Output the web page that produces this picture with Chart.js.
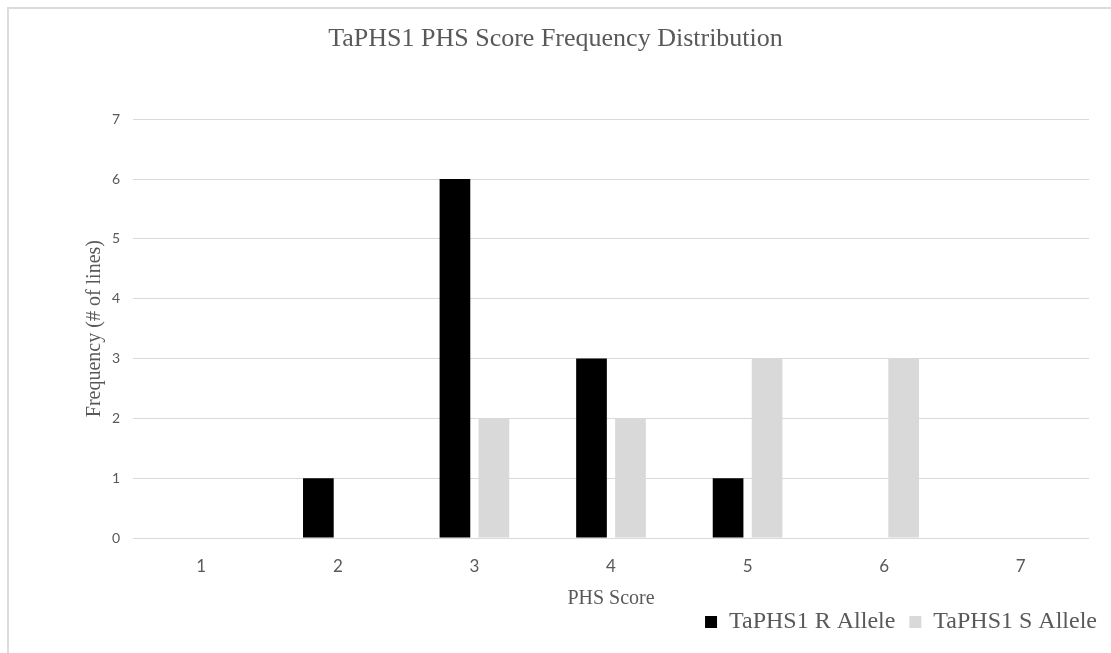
<!DOCTYPE html>
<html>
<head>
<meta charset="utf-8">
<title>TaPHS1 PHS Score Frequency Distribution</title>
<script src="https://cdn.jsdelivr.net/npm/chart.js@4"></script>
<style>
  html, body { margin: 0; padding: 0; background: #fff; overflow: hidden; }
  .frame {
    position: absolute; left: 7px; top: 7px; width: 1200px; height: 700px;
    border-left: 2px solid #dcdcdc; border-top: 2px solid #dcdcdc;
  }
  #wrap { position: absolute; left: 0; top: 0; width: 1111px; height: 653px; }
</style>
</head>
<body>
<div class="frame"></div>
<div id="wrap"><canvas id="phsChart" width="1111" height="653"></canvas></div>
<script>
// ------------------- Data -------------------
const scoreLabels = ["1", "2", "3", "4", "5", "6", "7"];
const rAlleleCounts = [0, 1, 6, 3, 1, 0, 0];
const sAlleleCounts = [0, 0, 2, 2, 3, 3, 0];
const seriesNames = ["TaPHS1 R Allele", "TaPHS1 S Allele"];

const grey = "#595959";
const serif = "'Liberation Serif', 'Times New Roman', serif";
const sans = "Lato, 'Open Sans', sans-serif";

new Chart(document.getElementById("phsChart"), {
  type: "bar",
  data: {
    labels: scoreLabels,
    datasets: [
      { label: seriesNames[0], data: rAlleleCounts, backgroundColor: "#000000", borderWidth: 0 },
      { label: seriesNames[1], data: sAlleleCounts, backgroundColor: "#d9d9d9", borderWidth: 0 },
    ],
  },
  options: {
    responsive: false,
    animation: false,
    devicePixelRatio: 1,
    categoryPercentage: 0.571,
    barPercentage: 0.787,
    layout: { padding: { top: 0, right: 0, bottom: 9, left: 0 } },
    scales: {
      x: {
        grid: { display: false },
        border: { display: false },
        ticks: { color: grey, font: { family: sans, size: 17 }, padding: 10 },
        title: {
          display: true, text: "PHS Score", color: grey,
          font: { family: serif, size: 20 }, padding: { top: 0, bottom: -15 },
        },
        afterFit: (scale) => { scale.height = 58; },
      },
      y: {
        min: 0, max: 7,
        grid: { color: "#d9d9d9", lineWidth: 1, drawTicks: false },
        border: { display: false },
        ticks: { stepSize: 1, color: grey, font: { family: sans, size: 14 }, padding: 13 },
        title: {
          display: true, text: "Frequency (# of lines)", color: grey,
          font: { family: serif, size: 20 }, padding: { top: 83, bottom: 0 },
        },
        afterFit: (scale) => { scale.width = 133; },
      },
      // empty right axis, only keeps the plot clear of the right edge
      yRight: {
        position: "right", min: 0, max: 7,
        grid: { display: false }, border: { display: false },
        ticks: { display: false },
        afterFit: (scale) => { scale.width = 22; },
      },
    },
    plugins: {
      title: {
        display: true,
        text: "TaPHS1 PHS Score Frequency Distribution",
        color: grey,
        font: { family: serif, size: 26, weight: "normal" },
        padding: { top: 24, bottom: 64 },
      },
      legend: {
        position: "bottom",
        align: "end",
        labels: {
          color: grey,
          font: { family: serif, size: 24 },
          boxWidth: 12, boxHeight: 12,
          padding: 14,
        },
      },
      tooltip: { enabled: false },
    },
  },
});
</script>
</body>
</html>
